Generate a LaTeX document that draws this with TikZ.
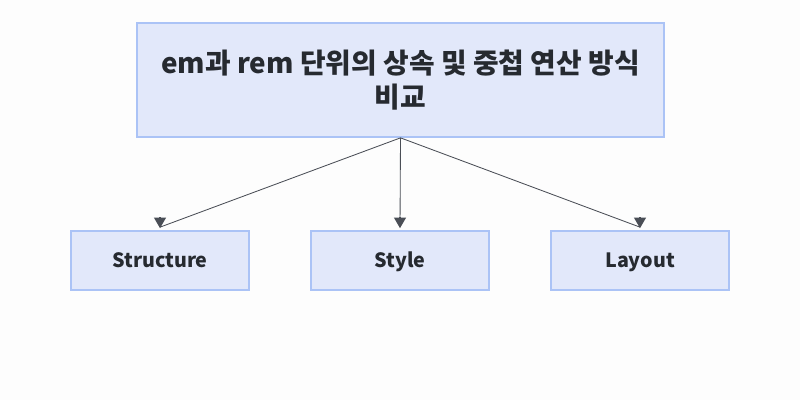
\documentclass[tikz,border=0pt]{standalone}
\usepackage{fontspec}
\setmainfont{Noto Sans CJK KR}
\usepackage{tikz}
\usetikzlibrary{arrows.meta, positioning, calc}
\definecolor{boxfill}{HTML}{E2E8FA}
\definecolor{boxline}{HTML}{ABC3F6}
\definecolor{edgegray}{HTML}{4A4E56}
\definecolor{textdark}{HTML}{262A30}
\definecolor{pagebg}{HTML}{FDFDFD}

\begin{document}
\begin{tikzpicture}[
  x=0.025cm, y=-0.025cm,
  box/.style={draw=boxline, line width=1.2pt, fill=boxfill, text=textdark,
    font=\bfseries},
  leaf/.style={box, minimum width=178*0.025cm, minimum height=59*0.025cm,
    text height=1.25em, text depth=0.22em,
    font=\fontsize{14}{17}\selectfont\bfseries},
  link/.style={draw=edgegray, line width=0.6pt},
  tip/.style={-{Triangle[width=8.5pt, length=7.5pt]}, edgegray, line width=0.8pt}
]
  % Canvas
  \fill[pagebg] (0, 0) rectangle (800, 400);
  \useasboundingbox (0, 0) rectangle (800, 400);

  % Title
  \node[box, minimum width=527*0.025cm, minimum height=114*0.025cm,
    align=center, font=\fontsize{19.8}{24.5}\selectfont\bfseries] (title)
    at (400.5, 80) {em과 rem 단위의 상속 및 중첩 연산 방식\\비교};

  % Children
  \node[leaf] (structure) at (160, 260.5) {Structure};
  \node[leaf] (style) at (400, 260.5) {Style};
  \node[leaf] (layout) at (640, 260.5) {Layout};

  % Connections
  \foreach \c in {structure,style,layout} {
    \draw[link] (title.south) -- ($(\c.north)+(0,-3)$);
    \draw[tip] ($(\c.north)+(0,-13)$) -- ($(\c.north)+(0,-2)$);
  }
\end{tikzpicture}
\end{document}
